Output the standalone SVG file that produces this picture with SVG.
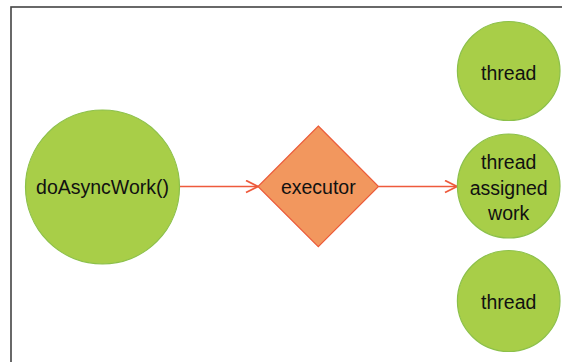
<svg xmlns="http://www.w3.org/2000/svg" width="562" height="362" viewBox="0 0 562 362">
<style>
.node{fill:#A8CE48;stroke:#8CC04A;stroke-width:1.2}
.dia{fill:#F2975E;stroke:#EC5B3A;stroke-width:1.2}
.lbl{font-family:"Liberation Sans",Arial,sans-serif;font-size:19.5px;fill:#111;text-anchor:middle}
.conn{stroke:#EE5A3C;stroke-width:1.6;fill:none}
</style>
<defs>
<marker id="arr" viewBox="0 0 14 14" refX="13" refY="7" markerWidth="14" markerHeight="14" markerUnits="userSpaceOnUse" orient="auto">
<path d="M1,1 L13,7 L1,13" fill="none" stroke="#EE5A3C" stroke-width="1.8"/>
</marker>
</defs>
<rect x="11" y="7" width="600" height="400" fill="#fff" stroke="#444" stroke-width="1.6"/>
<g id="connectors">
<line class="conn" x1="179" y1="186.5" x2="258" y2="186.5" marker-end="url(#arr)"/>
<line class="conn" x1="378.5" y1="186.5" x2="457" y2="186.5" marker-end="url(#arr)"/>
</g>
<g id="doAsyncWork">
<circle class="node" cx="102.5" cy="187" r="77"/>
<text class="lbl" x="102.5" y="193.5">doAsyncWork()</text>
</g>
<g id="executor">
<polygon class="dia" points="318.3,126 378.5,186.5 318.3,246.7 258,186.5"/>
<text class="lbl" x="318.3" y="193.5">executor</text>
</g>
<g id="thread1">
<ellipse class="node" cx="508.7" cy="71" rx="51.3" ry="49.5"/>
<text class="lbl" x="508.7" y="80">thread</text>
</g>
<g id="thread2">
<ellipse class="node" cx="508.7" cy="186" rx="51.3" ry="52"/>
<text class="lbl" x="508.7" y="168.5">thread</text>
<text class="lbl" x="508.7" y="194.5">assigned</text>
<text class="lbl" x="508.7" y="219.5">work</text>
</g>
<g id="thread3">
<ellipse class="node" cx="508.7" cy="301" rx="51.3" ry="50.5"/>
<text class="lbl" x="508.7" y="308.5">thread</text>
</g>
</svg>
